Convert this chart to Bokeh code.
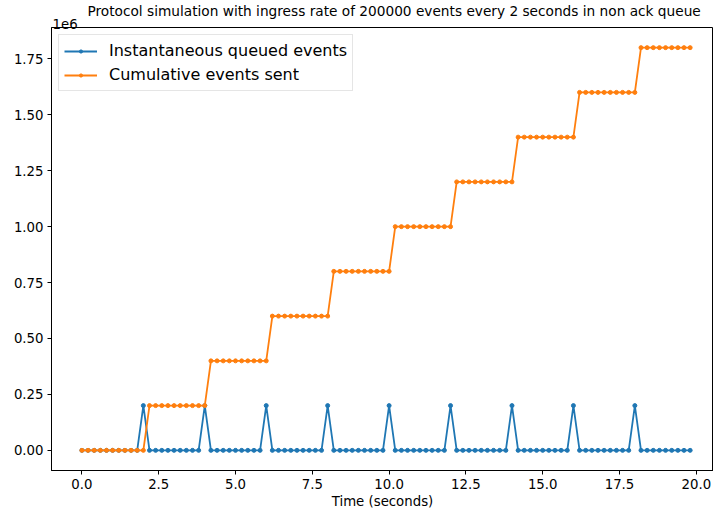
from bokeh.plotting import figure
from bokeh.models import (FixedTicker, CustomJSTickFormatter, Range1d, Title,
                          Legend, LegendItem)
from bokeh.embed import file_html
from bokeh.resources import INLINE

# ---- data (time in seconds, 0.2 s steps) ----
time_s = [
    0.0, 0.2, 0.4, 0.6, 0.8, 1.0, 1.2, 1.4, 1.6, 1.8,
    2.0, 2.2, 2.4, 2.6, 2.8, 3.0, 3.2, 3.4, 3.6, 3.8,
    4.0, 4.2, 4.4, 4.6, 4.8, 5.0, 5.2, 5.4, 5.6, 5.8,
    6.0, 6.2, 6.4, 6.6, 6.8, 7.0, 7.2, 7.4, 7.6, 7.8,
    8.0, 8.2, 8.4, 8.6, 8.8, 9.0, 9.2, 9.4, 9.6, 9.8,
    10.0, 10.2, 10.4, 10.6, 10.8, 11.0, 11.2, 11.4, 11.6, 11.8,
    12.0, 12.2, 12.4, 12.6, 12.8, 13.0, 13.2, 13.4, 13.6, 13.8,
    14.0, 14.2, 14.4, 14.6, 14.8, 15.0, 15.2, 15.4, 15.6, 15.8,
    16.0, 16.2, 16.4, 16.6, 16.8, 17.0, 17.2, 17.4, 17.6, 17.8,
    18.0, 18.2, 18.4, 18.6, 18.8, 19.0, 19.2, 19.4, 19.6, 19.8,
]

queued_events = [
    0, 0, 0, 0, 0, 0, 0, 0, 0, 0,
    200000, 0, 0, 0, 0, 0, 0, 0, 0, 0,
    200000, 0, 0, 0, 0, 0, 0, 0, 0, 0,
    200000, 0, 0, 0, 0, 0, 0, 0, 0, 0,
    200000, 0, 0, 0, 0, 0, 0, 0, 0, 0,
    200000, 0, 0, 0, 0, 0, 0, 0, 0, 0,
    200000, 0, 0, 0, 0, 0, 0, 0, 0, 0,
    200000, 0, 0, 0, 0, 0, 0, 0, 0, 0,
    200000, 0, 0, 0, 0, 0, 0, 0, 0, 0,
    200000, 0, 0, 0, 0, 0, 0, 0, 0, 0,
]

cumulative_sent = [
    0, 0, 0, 0, 0, 0, 0, 0, 0, 0,
    0, 200000, 200000, 200000, 200000, 200000, 200000, 200000, 200000, 200000,
    200000, 400000, 400000, 400000, 400000, 400000, 400000, 400000, 400000, 400000,
    400000, 600000, 600000, 600000, 600000, 600000, 600000, 600000, 600000, 600000,
    600000, 800000, 800000, 800000, 800000, 800000, 800000, 800000, 800000, 800000,
    800000, 1000000, 1000000, 1000000, 1000000, 1000000, 1000000, 1000000, 1000000, 1000000,
    1000000, 1200000, 1200000, 1200000, 1200000, 1200000, 1200000, 1200000, 1200000, 1200000,
    1200000, 1400000, 1400000, 1400000, 1400000, 1400000, 1400000, 1400000, 1400000, 1400000,
    1400000, 1600000, 1600000, 1600000, 1600000, 1600000, 1600000, 1600000, 1600000, 1600000,
    1600000, 1800000, 1800000, 1800000, 1800000, 1800000, 1800000, 1800000, 1800000, 1800000,
]

x_ticks = [0.0, 2.5, 5.0, 7.5, 10.0, 12.5, 15.0, 17.5, 20.0]
y_ticks = [0, 250000, 500000, 750000, 1000000, 1250000, 1500000, 1750000]

title_text = "Protocol simulation with ingress rate of 200000 events every 2 seconds in non ack queue"
offset_text = "1e6"
x_label = "Time (seconds)"
series_names = ["Instantaneous queued events", "Cumulative events sent"]

BLUE = "#1f77b4"
ORANGE = "#ff7f0e"
FONT = "DejaVu Sans"
FS = "13.3px"

p = figure(width=713, height=511, output_backend="svg", toolbar_location=None,
           x_range=Range1d(-0.99, 20.56), y_range=Range1d(-90000, 1890000),
           min_border_left=51, min_border_right=0, min_border_top=26,
           min_border_bottom=41)

p.title.text = title_text
p.title.align = "left"
p.title.offset = 36
p.title.standoff = 0
p.title.text_font = FONT
p.title.text_font_size = "13.7px"
p.title.text_font_style = "normal"
p.title.text_color = "black"

# matplotlib-style offset text "1e6" above the y axis
p.add_layout(Title(text=offset_text, align="left", offset=1, standoff=-3,
                   text_font=FONT, text_font_size=FS, text_font_style="normal",
                   text_color="black"), "above")

p.xgrid.visible = False
p.ygrid.visible = False
p.outline_line_color = "black"
p.outline_line_width = 1

for ax in (p.xaxis[0], p.yaxis[0]):
    ax.axis_line_color = "black"
    ax.major_tick_line_color = "black"
    ax.major_tick_in = 0
    ax.major_tick_out = 4
    ax.minor_tick_line_color = None
    ax.major_label_text_font = FONT
    ax.major_label_text_font_size = FS
    ax.major_label_text_color = "black"
    ax.major_label_standoff = 4

p.xaxis.ticker = FixedTicker(ticks=x_ticks)
p.xaxis.formatter = CustomJSTickFormatter(code="return tick.toFixed(1);")
p.xaxis.axis_label = x_label
p.xaxis.axis_label_text_font = FONT
p.xaxis.axis_label_text_font_size = FS
p.xaxis.axis_label_text_font_style = "normal"
p.xaxis.axis_label_text_color = "black"
p.xaxis.axis_label_standoff = 2

p.yaxis.ticker = FixedTicker(ticks=y_ticks)
p.yaxis.formatter = CustomJSTickFormatter(code="return (tick/1e6).toFixed(2);")

l1 = p.line(time_s, queued_events, line_color=BLUE, line_width=1.8)
s1 = p.scatter(time_s, queued_events, marker="circle", size=4,
               fill_color=BLUE, line_color=BLUE)
l2 = p.line(time_s, cumulative_sent, line_color=ORANGE, line_width=1.8)
s2 = p.scatter(time_s, cumulative_sent, marker="circle", size=4,
               fill_color=ORANGE, line_color=ORANGE)

legend = Legend(items=[LegendItem(label=series_names[0], renderers=[l1, s1]),
                       LegendItem(label=series_names[1], renderers=[l2, s2])],
                location="top_left")
legend.margin = 7
legend.padding = 5
legend.spacing = 3
legend.glyph_width = 33
legend.glyph_height = 8
legend.label_height = 21
legend.label_standoff = 12
legend.label_text_font = FONT
legend.label_text_font_size = "16px"
legend.label_text_color = "black"
legend.border_line_color = "#cccccc"
legend.border_line_width = 1
legend.background_fill_alpha = 0.8
p.add_layout(legend)

open("out.html", "w").write(file_html(p, INLINE))
